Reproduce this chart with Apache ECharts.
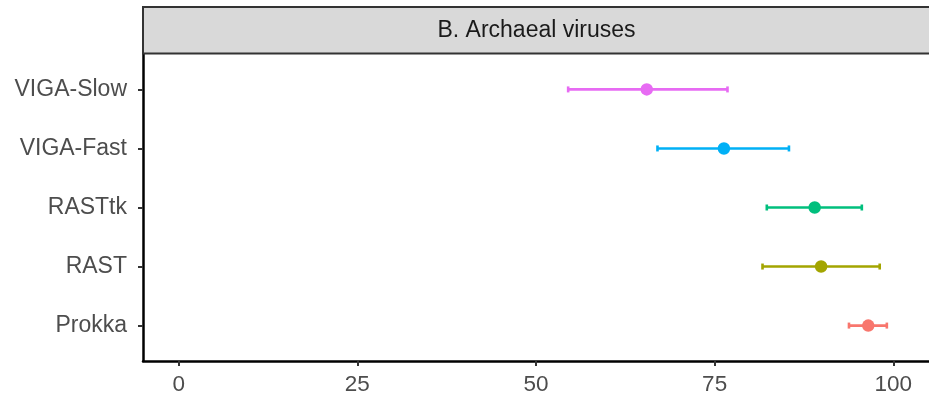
<!DOCTYPE html>
<html>
<head>
<meta charset="utf-8">
<script src="https://cdn.jsdelivr.net/npm/echarts@6/dist/echarts.min.js"></script>
<style>
  html, body { margin: 0; padding: 0; background: #fff; }
  #chart { width: 929px; height: 398px; }
</style>
</head>
<body>
<div id="chart"></div>
<script>
// bottom to top
const tools = ['Prokka', 'RAST', 'RASTtk', 'VIGA-Fast', 'VIGA-Slow']
const means = [96.5, 89.9, 89.0, 76.3, 65.5]
const lows = [93.8, 81.7, 82.3, 67.0, 54.5]
const highs = [99.1, 98.1, 95.6, 85.4, 76.8]
const colors = ['#F8766D', '#A3A500', '#00BF7D', '#00B0F6', '#E76BF3']
const xTicks = [0, 25, 50, 75, 100]
const panelTitle = 'B. Archaeal viruses'

const font = 'Liberation Sans, Arial, Helvetica, sans-serif'
const yPos = tools.map((t, i) => i + 1)

const myChart = echarts.init(document.getElementById('chart'), null, { renderer: 'canvas' })

const option = {
  animation: false,
  backgroundColor: '#fff',
  grid: { left: 143, right: -1, top: 54, height: 307 },
  graphic: [
    {
      type: 'rect',
      shape: { x: 143, y: 7, width: 800, height: 46.5 },
      style: { fill: '#D9D9D9', stroke: '#333333', lineWidth: 2 },
      z: 10,
    },
    {
      type: 'text',
      x: 536.5,
      y: 30.5,
      style: {
        text: panelTitle,
        fill: '#1A1A1A',
        font: '23px ' + font,
        align: 'center',
        verticalAlign: 'middle',
      },
      z: 11,
    },
  ],
  xAxis: {
    type: 'value',
    min: -5,
    max: 105,
    splitLine: { show: false },
    axisLine: { show: true, onZero: false, lineStyle: { color: '#000', width: 2.5 } },
    axisTick: { customValues: xTicks, length: 5, lineStyle: { color: '#333', width: 2 } },
    axisLabel: {
      customValues: xTicks,
      color: '#4D4D4D',
      fontFamily: font,
      fontSize: 22.5,
      margin: 12,
    },
  },
  yAxis: {
    type: 'value',
    min: 0.4,
    max: 5.6,
    splitLine: { show: false },
    axisLine: { show: true, onZero: false, lineStyle: { color: '#000', width: 2.5 } },
    axisTick: { customValues: yPos, length: 5, lineStyle: { color: '#333', width: 2 } },
    axisLabel: {
      customValues: yPos,
      formatter: (v) => tools[Math.round(v) - 1],
      color: '#4D4D4D',
      fontFamily: font,
      fontSize: 23,
      margin: 16,
    },
  },
  series: [
    {
      type: 'custom',
      data: tools.map((t, i) => [lows[i], highs[i], i + 1]),
      encode: { x: [0, 1], y: 2 },
      renderItem(params, api) {
        const y = api.value(2)
        const a = api.coord([api.value(0), y])
        const b = api.coord([api.value(1), y])
        const c = colors[params.dataIndex]
        const h = 3
        const st = { stroke: c, lineWidth: 2.6 }
        return {
          type: 'group',
          children: [
            { type: 'line', shape: { x1: a[0], y1: a[1], x2: b[0], y2: b[1] }, style: st },
            { type: 'line', shape: { x1: a[0], y1: a[1] - h, x2: a[0], y2: a[1] + h }, style: st },
            { type: 'line', shape: { x1: b[0], y1: b[1] - h, x2: b[0], y2: b[1] + h }, style: st },
          ],
        }
      },
      z: 2,
    },
    {
      type: 'scatter',
      data: tools.map((t, i) => ({
        value: [means[i], i + 1],
        itemStyle: { color: colors[i], opacity: 1 },
      })),
      symbolSize: 12.5,
      z: 3,
    },
  ],
}

myChart.setOption(option)
</script>
</body>
</html>
